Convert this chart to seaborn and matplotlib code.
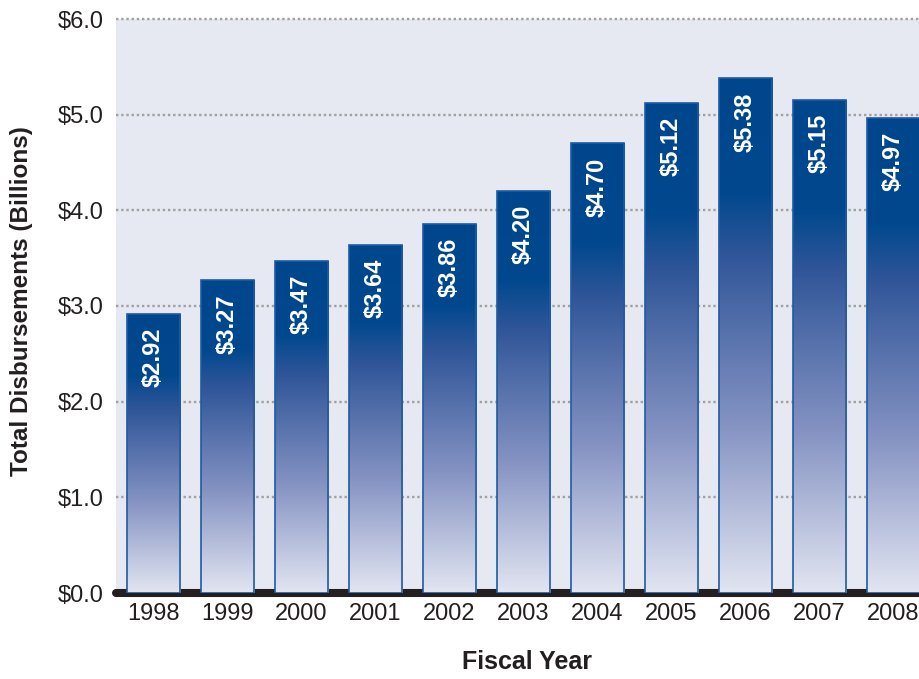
import numpy as np
import pandas as pd
import matplotlib
matplotlib.use("Agg")
import matplotlib.pyplot as plt
from matplotlib.colors import LinearSegmentedColormap
import seaborn as sns

years = ["1998", "1999", "2000", "2001", "2002", "2003", "2004", "2005", "2006", "2007", "2008"]
values = [2.92, 3.27, 3.47, 3.64, 3.86, 4.20, 4.70, 5.12, 5.38, 5.15, 4.97]
yticks = [0, 1, 2, 3, 4, 5, 6]
ytick_labels = ["$0.0", "$1.0", "$2.0", "$3.0", "$4.0", "$5.0", "$6.0"]

sns.set_theme(style="white")
FONT = ["Liberation Sans", "DejaVu Sans"]
plt.rcParams["font.family"] = FONT

df = pd.DataFrame({"year": years, "value": values})

fig = plt.figure(figsize=(9.19, 6.79), dpi=100)
ax = fig.add_axes([116 / 919, 1 - 593 / 679, 1 - 116 / 919, (593 - 19) / 679])
ax.set_facecolor("#e6e8f2")

sns.barplot(data=df, x="year", y="value", ax=ax, width=0.72, color="#00468c",
            edgecolor="#1f5aa6", linewidth=1.2, zorder=3)

cmap = LinearSegmentedColormap.from_list(
    "bar", [(0.0, "#e2e5f1"), (0.33, "#8492c2"), (0.66, "#2f5598"),
            (0.78, "#00488e"), (1.0, "#00468c")])
grad = np.linspace(0, 1, 256).reshape(-1, 1)

for p in list(ax.patches):
    x0, w, h = p.get_x(), p.get_width(), p.get_height()
    im = ax.imshow(grad, extent=[x0, x0 + w, 0, h], origin="lower", aspect="auto",
                   cmap=cmap, zorder=2.5, interpolation="bilinear")
    im.set_clip_path(p)
    p.set_facecolor("none")

for y in yticks[1:]:
    ax.axhline(y, color="#a0a0a0", lw=1.7, ls=(0, (1, 1.2)), zorder=1, clip_on=False)
ax.axhline(0, color="#231f20", lw=5.8, zorder=2, clip_on=False)

for i, v in enumerate(values):
    ax.annotate(f"${v:.2f}", xy=(i, v), xytext=(0, -10), textcoords="offset points",
                rotation=90, ha="center", va="top", color="white",
                fontsize=17, fontweight="bold", zorder=5)

ax.set_xlim(-0.507, 10.345)
ax.set_ylim(0, 6)
ax.set_yticks(yticks)
ax.set_yticklabels(ytick_labels)
ax.tick_params(axis="both", length=0, labelsize=17, labelcolor="#231f20")
ax.tick_params(axis="y", pad=9)
ax.tick_params(axis="x", pad=7)
ax.set_xlabel("")
ax.set_ylabel("")
for s in ax.spines.values():
    s.set_visible(False)

fig.text(527 / 919, 1 - 662 / 679, "Fiscal Year", ha="center", va="center",
         fontsize=18, fontweight="bold", color="#231f20")
fig.text(22 / 919, 1 - 301 / 679, "Total Disbursements (Billions)", ha="center", va="center",
         rotation=90, fontsize=17.5, fontweight="bold", color="#231f20")

fig.savefig("out.png", dpi=100)
